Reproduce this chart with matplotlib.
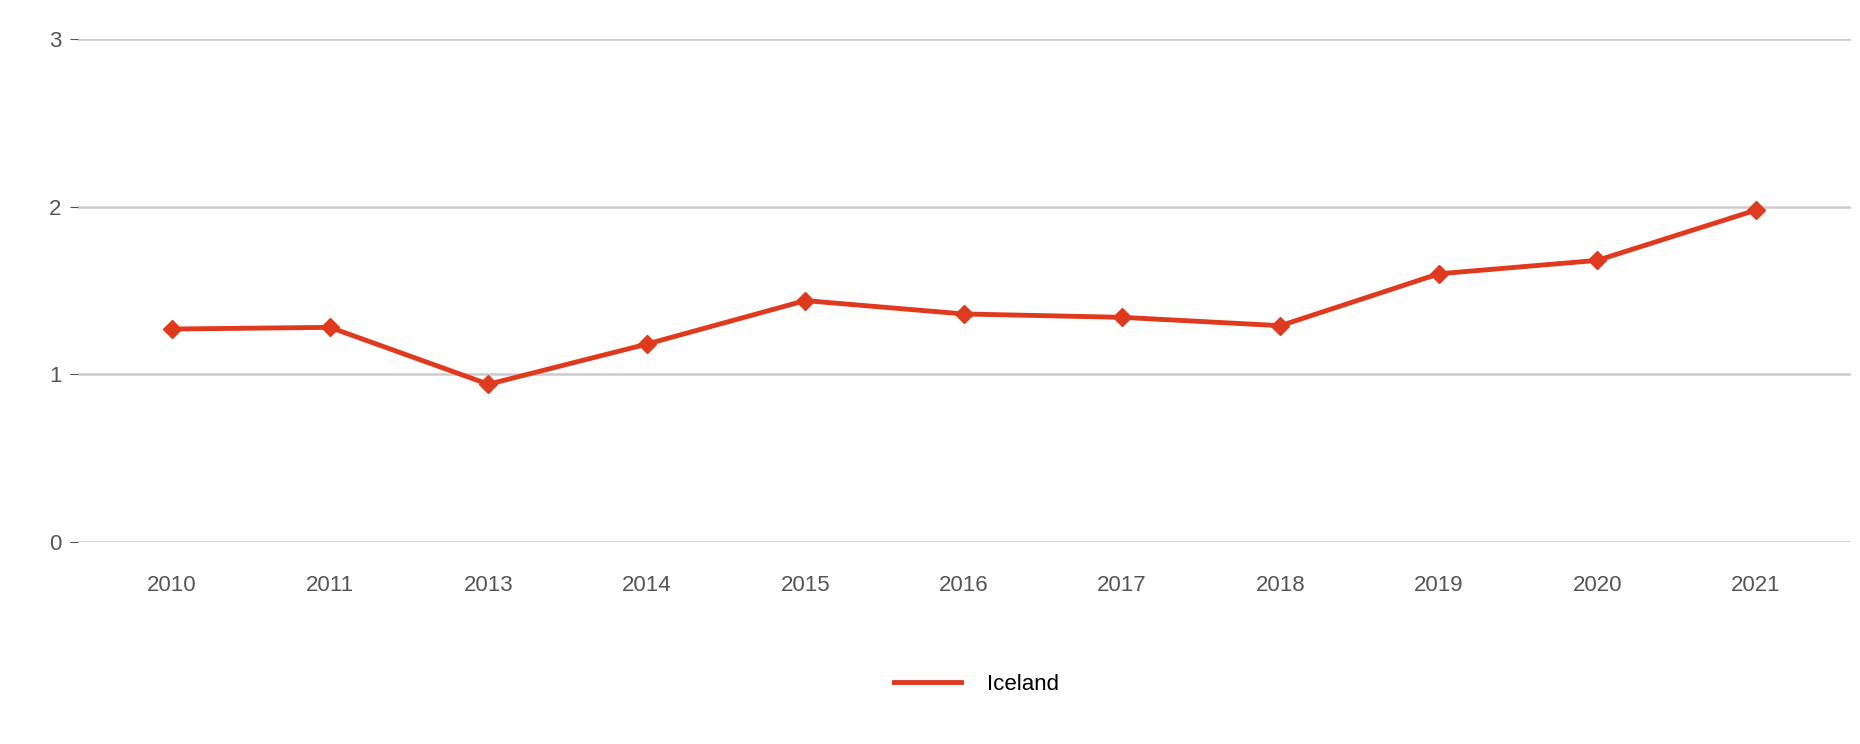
import matplotlib
matplotlib.use("Agg")
import matplotlib.pyplot as plt

years = ["2010", "2011", "2013", "2014", "2015", "2016", "2017", "2018", "2019", "2020", "2021"]
iceland = [1.27, 1.28, 0.94, 1.18, 1.44, 1.36, 1.34, 1.29, 1.60, 1.68, 1.98]

plt.rcParams['font.family'] = ['Liberation Sans', 'DejaVu Sans']
fig = plt.figure(figsize=(18.6, 7.44), dpi=100)
ax = fig.add_axes([0.042, 0.272, 0.953, 0.675])

x = list(range(len(years)))
ax.plot(x, iceland, color="#e03a1e", lw=3.5, marker="D", ms=9, label="Iceland", zorder=3)

ax.set_ylim(0, 3)
ax.set_xlim(-0.59, 10.6)
ax.set_yticks([0, 1, 2, 3])
ax.set_xticks(x)
ax.set_xticklabels(years)
ax.grid(axis="y", color="#cccccc", lw=1.8)
ax.set_axisbelow(True)
for s in ax.spines.values():
    s.set_visible(False)
ax.tick_params(axis="y", length=6, color="#555555", labelsize=16, labelcolor="#555555", pad=6)
ax.tick_params(axis="x", length=0, labelsize=16, labelcolor="#555555", pad=24)

fig.legend(loc="center", bbox_to_anchor=(0.525, 0.08), frameon=False, fontsize=16,
           handlelength=3, handletextpad=1.2)
leg = fig.legends[0]
for h in leg.legend_handles:
    h.set_marker("")

fig.savefig("out.png")
